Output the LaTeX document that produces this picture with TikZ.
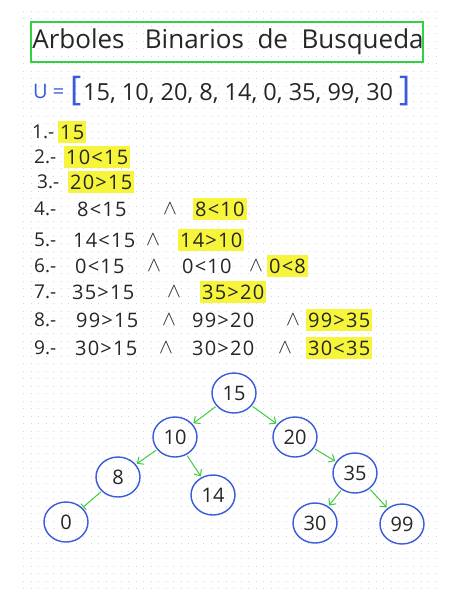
\documentclass[tikz,border=0pt]{standalone}
\usepackage{fontspec}
\setmainfont{Open Sans}
\newfontfamily\hand[LetterSpace=6]{Open Sans}
\usetikzlibrary{arrows.meta,shapes.geometric}
\definecolor{gridc}{HTML}{D4D4EC}
\definecolor{tgreen}{HTML}{33D13F}
\definecolor{ublue}{HTML}{3A5BD9}
\definecolor{hly}{HTML}{F6F53C}
\definecolor{agreen}{HTML}{3CCB3C}
\tikzset{
  txt/.style={anchor=west, inner sep=1pt, font=\fontsize{20}{20}\hand, text=black!85},
  lbl/.style={anchor=west, inner sep=1pt, font=\fontsize{19}{19}\selectfont, text=black!85},
  hl/.style={fill=hly, inner xsep=2pt, minimum height=22pt},
  bst/.style={draw=ublue, line width=1.4pt, ellipse, minimum width=44pt, minimum height=40pt, inner sep=0pt, font=\fontsize{20}{20}\selectfont, text=black!85},
  edge/.style={draw=agreen, line width=1pt, -{Straight Barb[length=5pt,width=9pt]}, shorten <=1pt, shorten >=1pt},
}
\begin{document}
\begin{tikzpicture}[x=1pt,y=-1pt]
\useasboundingbox (0,0) rectangle (456,606);
\fill[white] (0,0) rectangle (456,606);
% dot grid
\foreach \y in {11,18.5,...,592}
  \draw[gridc, line width=0.9pt, dash pattern=on 0.9pt off 6.6pt] (23,\y) -- (437,\y);
% title
\node[draw=tgreen, line width=1.3pt, minimum width=392pt, minimum height=40pt, inner sep=0pt] (title) at (227,42) {};
\node[font=\fontsize{26}{26}\selectfont, text=black!85, inner sep=0pt] (tt) at (228,42) {Arboles\ \ \ Binarios\ \ de\ \ Busqueda};
% U line
\node[anchor=west, text=ublue, font=\fontsize{20}{20}\selectfont, inner sep=0pt] (u) at (33,91) {U =};
\node[anchor=west, text=ublue, font=\fontsize{34}{34}\selectfont, inner sep=0pt] (lb) at (70,91) {[};
\node[anchor=west, text=black!85, font=\fontsize{23.5}{23.5}\selectfont, inner sep=0pt] (set) at (83,93) {15, 10, 20, 8, 14, 0, 35, 99, 30};
\node[anchor=west, text=ublue, font=\fontsize{34}{34}\selectfont, inner sep=0pt] (rb) at (399,91) {]};
% steps
\node[lbl] (s1) at (31,132) {1.-};
\node[txt,hl] (s1a) at (58,132) {15};
\node[lbl] (s2) at (33,157) {2.-};
\node[txt,hl] (s2a) at (64,157) {10<15};
\node[lbl] (s3) at (36,182) {3.-};
\node[txt,hl] (s3a) at (68,182) {20>15};
\node[lbl] (s4) at (33,209) {4.-};
\node[txt] (s4a) at (76,209) {8<15};
\node[txt] (s4b) at (162,209) {$\wedge$};
\node[txt,hl] (s4c) at (193,209) {8<10};
\node[lbl] (s5) at (33,240) {5.-};
\node[txt] (s5a) at (72,240) {14<15};
\node[txt] (s5b) at (145,240) {$\wedge$};
\node[txt,hl] (s5c) at (178,240) {14>10};
\node[lbl] (s6) at (33,266) {6.-};
\node[txt] (s6a) at (74,266) {0<15};
\node[txt] (s6b) at (146,266) {$\wedge$};
\node[txt] (s6c) at (181,266) {0<10};
\node[txt] (s6d) at (248,266) {$\wedge$};
\node[txt,hl] (s6e) at (267,266) {0<8};
\node[lbl] (s7) at (33,292) {7.-};
\node[txt] (s7a) at (71,292) {35>15};
\node[txt] (s7b) at (166,292) {$\wedge$};
\node[txt,hl] (s7c) at (200,292) {35>20};
\node[lbl] (s8) at (33,320) {8.-};
\node[txt] (s8a) at (75,320) {99>15};
\node[txt] (s8b) at (161,320) {$\wedge$};
\node[txt] (s8c) at (191,320) {99>20};
\node[txt] (s8d) at (285,320) {$\wedge$};
\node[txt,hl] (s8e) at (306,320) {99>35};
\node[lbl] (s9) at (33,348) {9.-};
\node[txt] (s9a) at (74,348) {30>15};
\node[txt] (s9b) at (158,348) {$\wedge$};
\node[txt] (s9c) at (191,348) {30>20};
\node[txt] (s9d) at (277,348) {$\wedge$};
\node[txt,hl] (s9e) at (306,348) {30<35};
% tree
\node[bst] (n15) at (234,393) {15};
\node[bst] (n10) at (175,437) {10};
\node[bst] (n20) at (295,437) {20};
\node[bst] (n8) at (118,477) {8};
\node[bst] (n14) at (213,495) {14};
\node[bst] (n35) at (355,473) {35};
\node[bst] (n0) at (66,522) {0};
\node[bst] (n30) at (315,523) {30};
\node[bst] (n99) at (402,524) {99};
\draw[edge] (n15) -- (n10);
\draw[edge] (n15) -- (n20);
\draw[edge] (n10) -- (n8);
\draw[edge] (n10) -- (n14);
\draw[edge] (n20) -- (n35);
\draw[edge] (n35) -- (n30);
\draw[edge] (n35) -- (n99);
\draw[edge, -{Bar[width=8pt]}] (n8) -- (n0);
\end{tikzpicture}
\end{document}
